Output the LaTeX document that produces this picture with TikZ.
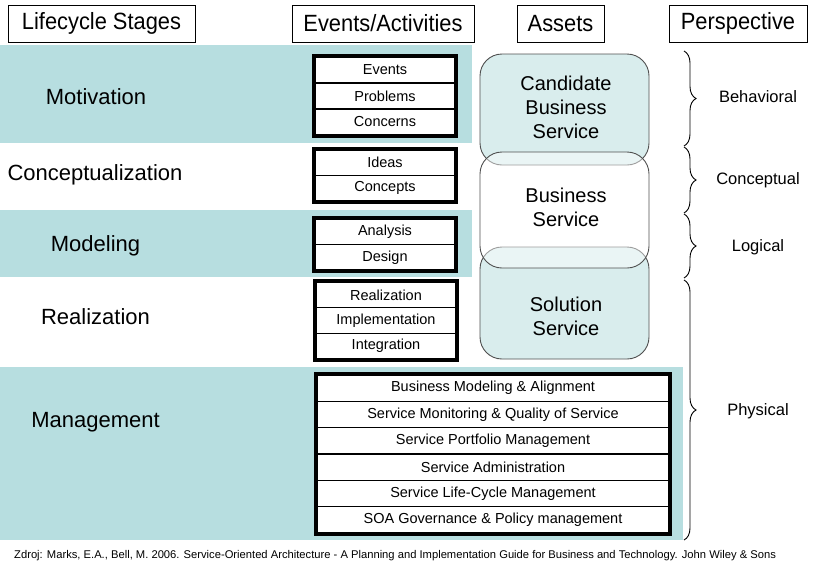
\documentclass[tikz,border=0pt]{standalone}
\usepackage{fontspec}
\setmainfont{Liberation Sans}
\newfontfamily\narrowfont[FakeStretch=0.93]{Liberation Sans}
\usetikzlibrary{decorations.pathreplacing}
\definecolor{band}{HTML}{B7DEE0}
\definecolor{assetfill}{HTML}{D9EDED}
\definecolor{assetline}{HTML}{505050}
\tikzset{
  header/.style={draw=black, line width=0.9pt, inner sep=0pt, font=\narrowfont\fontsize{23.5}{26}\selectfont},
  stage/.style={font=\fontsize{22}{24}\selectfont},
  row/.style={draw=black, fill=white, line width=1.3pt, inner sep=0pt, font=\fontsize{14.5}{16}\selectfont},
  groupbox/.style={draw=black, line width=4pt},
  asset/.style={draw=assetline, line width=0.9pt, rounded corners=22pt},
  assettext/.style={align=center, font=\fontsize{20}{24}\selectfont},
  persp/.style={font=\fontsize{16.5}{18}\selectfont},
  persbrace/.style={decorate, decoration={brace, amplitude=12pt}, line width=0.9pt},
}
\begin{document}
\begin{tikzpicture}[x=1pt,y=-1pt]
\useasboundingbox (0,0) rectangle (813,568);
\fill[white] (0,0) rectangle (813,568);
% bands
\fill[band] (0,45) rectangle (472,143);
\fill[band] (0,210) rectangle (472,277);
\fill[band] (0,367) rectangle (683,540);
% headers
\node[header, minimum width=187pt, minimum height=37pt] (hlife) at (101.5,23.5) {Lifecycle Stages};
\node[header, minimum width=182pt, minimum height=37pt] (hevents) at (383,23.5) {Events/Activities};
\node[header, minimum width=87pt, minimum height=37pt] (hassets) at (560.5,23.5) {Assets};
\node[header, minimum width=138pt, minimum height=37pt] (hpersp) at (738,23.5) {Perspective};
% stages
\node[stage] (smot) at (96,97) {Motivation};
\node[stage] (scon) at (95,175) {Conceptualization};
\node[stage] (smod) at (95.5,246) {Modeling};
\node[stage] (sreal) at (95.5,317) {Realization};
\node[stage] (sman) at (95.5,422) {Management};
% motivation events
\begin{scope}[row/.append style={minimum width=140pt, minimum height=26pt}]
\node[row] (ev1) at (385,70) {Events};
\node[row] (ev2) at (385,96) {Problems};
\node[row] (ev3) at (385,122) {Concerns};
\end{scope}
\draw[groupbox] (ev1.north west) rectangle (ev3.south east);
\begin{scope}[row/.append style={minimum width=140pt, minimum height=25.5pt}]
\node[row] (ic1) at (385,162.75) {Ideas};
\node[row] (ic2) at (385,188.25) {Concepts};
\node[row] (ad1) at (385,231.75) {Analysis};
\node[row] (ad2) at (385,257.25) {Design};
\end{scope}
\draw[groupbox] (ic1.north west) rectangle (ic2.south east);
\draw[groupbox] (ad1.north west) rectangle (ad2.south east);
\begin{scope}[row/.append style={minimum width=140pt, minimum height=25.67pt}]
\node[row] (re1) at (386,294.83) {Realization};
\node[row] (re2) at (386,320.5) {Implementation};
\node[row] (re3) at (386,346.17) {Integration};
\end{scope}
\draw[groupbox] (re1.north west) rectangle (re3.south east);
\begin{scope}[row/.append style={minimum width=352pt, minimum height=26.33pt}]
\node[row] (m1) at (493,388.17) {Business Modeling \& Alignment};
\node[row] (m2) at (493,414.5) {Service Monitoring \& Quality of Service};
\node[row] (m3) at (493,440.83) {Service Portfolio Management};
\node[row] (m4) at (493,467.17) {Service Administration};
\node[row] (m5) at (493,493.5) {Service Life-Cycle Management};
\node[row] (m6) at (493,519.83) {SOA Governance \& Policy management};
\end{scope}
\draw[groupbox] (m1.north west) rectangle (m6.south east);
% assets
\draw[asset, fill=assetfill] (480,54) rectangle (649,165);
\draw[asset, fill=assetfill] (480,247) rectangle (649,359);
\draw[asset, fill=white, fill opacity=0.45] (480,152) rectangle (649,268);
\node[assettext] (acand) at (566,107) {Candidate\\Business\\Service};
\node[assettext] (abus) at (566,207) {Business\\Service};
\node[assettext] (asol) at (566,316) {Solution\\Service};
% braces
\draw[persbrace] (684,51) -- (684,146);
\draw[persbrace] (684,147) -- (684,213);
\draw[persbrace] (684,214) -- (684,278);
\draw[persbrace] (684,280) -- (684,540);
\node[persp] (pbeh) at (758,97) {Behavioral};
\node[persp] (pcon) at (758,180) {Conceptual};
\node[persp] (plog) at (758,247) {Logical};
\node[persp] (pphy) at (758,411) {Physical};
% footer
\node[anchor=west, inner sep=0pt, font=\fontsize{11.2}{12}\selectfont] (foot) at (14,556) {Zdroj: Marks, E.A., Bell, M. 2006. Service-Oriented Architecture - A Planning and Implementation Guide for Business and Technology. John Wiley \& Sons};
\end{tikzpicture}
\end{document}
